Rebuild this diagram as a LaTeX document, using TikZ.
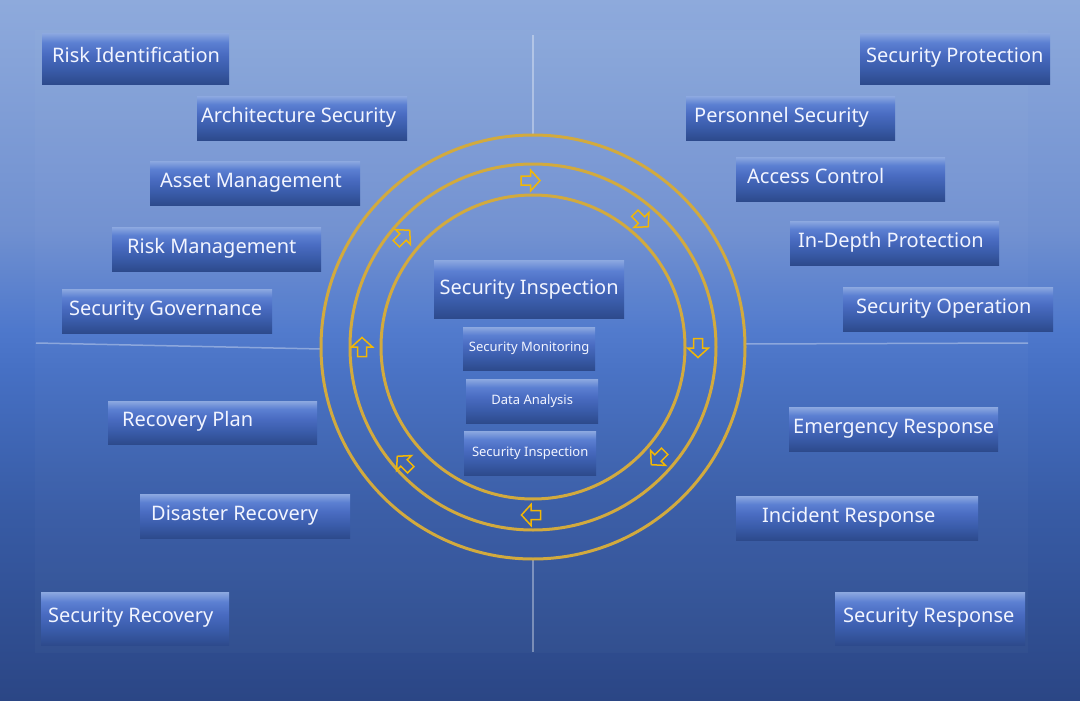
\documentclass[tikz,border=0pt]{standalone}
\usepackage{fontspec}
\setmainfont{Noto Sans}
\usetikzlibrary{positioning}
\definecolor{ringgold}{HTML}{D2AA3E}
\definecolor{arrowgold}{HTML}{F2B705}
\definecolor{boxtext}{HTML}{F2F5FF}

% page gradient, light at the top and deep blue at the foot
\pgfdeclareverticalshading{pageshade}{100bp}{
  color(0bp)=(rgb,255:red,43;green,70;blue,133);
  color(25bp)=(rgb,255:red,43;green,70;blue,133);
  color(39bp)=(rgb,255:red,56;green,92;blue,166);
  color(48.6bp)=(rgb,255:red,70;green,112;blue,196);
  color(51.5bp)=(rgb,255:red,78;green,120;blue,204);
  color(58.6bp)=(rgb,255:red,112;green,144;blue,208);
  color(75bp)=(rgb,255:red,142;green,170;blue,220);
  color(100bp)=(rgb,255:red,142;green,170;blue,220)}
% box gradient
\pgfdeclareverticalshading{boxshade}{100bp}{
  color(0bp)=(rgb,255:red,45;green,74;blue,140);
  color(25bp)=(rgb,255:red,45;green,74;blue,140);
  color(40bp)=(rgb,255:red,58;green,92;blue,170);
  color(55bp)=(rgb,255:red,74;green,108;blue,194);
  color(66bp)=(rgb,255:red,92;green,128;blue,210);
  color(75bp)=(rgb,255:red,140;green,168;blue,224);
  color(100bp)=(rgb,255:red,140;green,168;blue,224)}

\tikzset{
  secbox/.style={anchor=north west, inner sep=0pt, shading=boxshade},
  boxlabel/.style={anchor=west, inner sep=0pt, text=boxtext, text height=15pt, text depth=4pt, font=\fontsize{20}{24}\selectfont},
  smalllabel/.style={text=boxtext, font=\fontsize{13}{15}\selectfont},
  divider/.style={white, opacity=0.35, line width=1.5pt},
  ring/.style={ringgold, line width=3pt},
  flowarrow/.style={arrowgold, line width=1.5pt, line join=miter}
}

\begin{document}
\begin{tikzpicture}[x=1pt, y=-1pt]
  \useasboundingbox (0,0) rectangle (1080,701);
  % background and panel
  \shade[shading=pageshade] (0,0) rectangle (1080,701);
  \fill[white, opacity=0.025] (35,30) rectangle (1028,653);

  % quadrant dividers
  \coordinate (hub) at (533,347);
  \draw[divider] (533,35) -- (533,135);
  \draw[divider] (533,560) -- (533,652);
  \draw[divider] (36,343) -- (321,349);
  \draw[divider] (745,344) -- (1028,343);

  % rings
  \draw[ring] (hub) circle[radius=212];
  \draw[ring] (hub) circle[radius=183];
  \draw[ring] (hub) circle[radius=152];

  % clockwise arrows between the two inner rings
  \foreach \x/\y/\r in {530.5/180.5/0, 641.5/220/-45, 698/348/-90, 658/458/-135,
                        531/515/180, 404/463/135, 362/347/90, 403/237/45}
    \draw[flowarrow, shift={(\x,\y)}, rotate=\r]
      (-9.5,-4.5) -- (0,-4.5) -- (0,-10.5) -- (9.5,0) -- (0,10.5) -- (0,4.5) -- (-9.5,4.5) -- cycle;

  % side boxes
  \foreach \nm/\x/\y/\w/\h/\p/\txt in {
      riskid/42/33/187/51/10/Risk Identification,
      archsec/197/96/210/44/4/Architecture Security,
      assetmgmt/150/161/210/44/10/Asset Management,
      riskmgmt/112/227/209/44/15/Risk Management,
      secgov/62/289/210/44/7/Security Governance,
      recplan/108/401/209/43/14/Recovery Plan,
      disrec/140/494/210/44/11/Disaster Recovery,
      secrec/41/592/188/53/7/Security Recovery,
      secprot/860/33/190/51/6/Security Protection,
      perssec/686/96/209/44/8/Personnel Security,
      access/736/157/209/44/11/Access Control,
      indepth/790/221/209/44/8/In-Depth Protection,
      secop/843/287/210/44/13/Security Operation,
      emerg/789/407/209/44/4/Emergency Response,
      incident/736/496/242/44/26/Incident Response,
      secresp/835/592/190/53/8/Security Response}
  {
    \node[secbox, minimum width=\w pt, minimum height=\h pt] (\nm) at (\x,\y) {};
    \node[boxlabel] (\nm-t) at ([xshift=\p pt, yshift=1.5pt]\nm.west) {\txt};
  }

  % centre stack
  \node[secbox, minimum width=190pt, minimum height=58pt, text=boxtext, font=\fontsize{20}{24}\selectfont] (mainins) at (434,260) {Security Inspection};
  \node[secbox, minimum width=132pt, minimum height=43pt, smalllabel] (monitor) at (463,327) {Security Monitoring};
  \node[secbox, minimum width=132pt, minimum height=44pt, smalllabel] (analysis) at (466,379) {Data Analysis};
  \node[secbox, minimum width=132pt, minimum height=44pt, smalllabel] (inspect) at (464,431) {Security Inspection};
\end{tikzpicture}
\end{document}
